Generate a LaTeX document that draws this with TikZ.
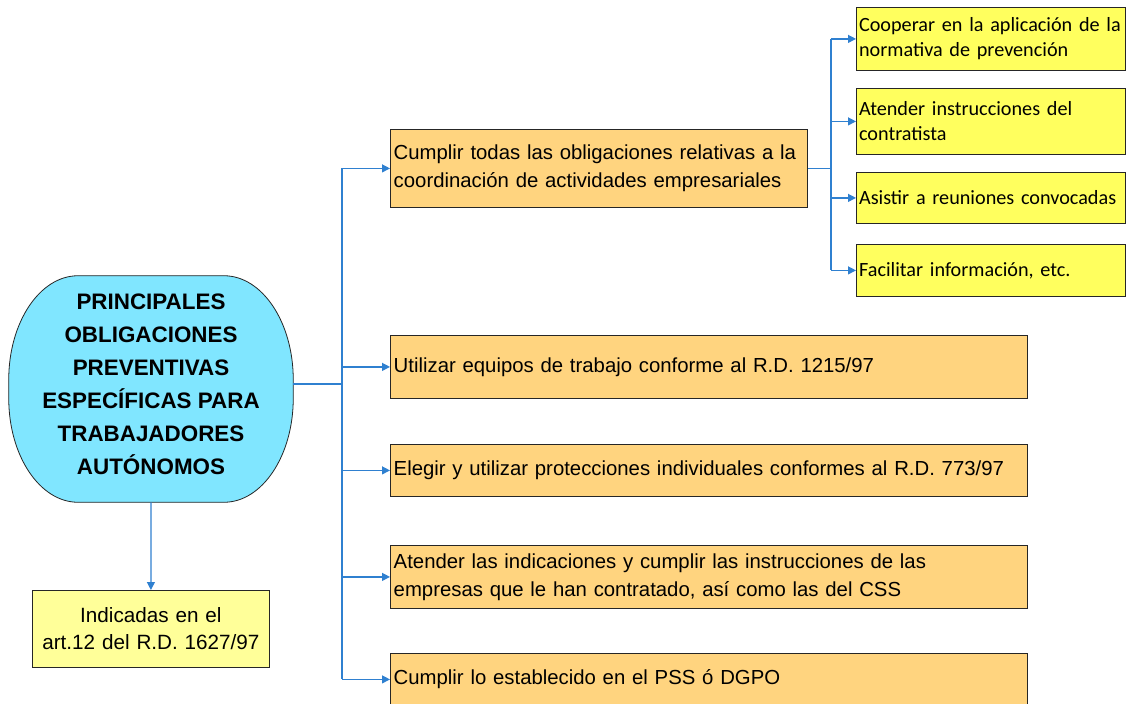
\documentclass[tikz,border=0pt]{standalone}
\usepackage{fontspec}
\setmainfont{Liberation Sans}
\newfontfamily\calibri{Carlito}
\usepackage{tikz}
\usetikzlibrary{positioning,arrows.meta,backgrounds}
\definecolor{lnblue}{HTML}{2F80D0}
\definecolor{boxorange}{HTML}{FFD47F}
\definecolor{boxyellow}{HTML}{FFFF5E}
\definecolor{paleyellow}{HTML}{FFFF99}
\definecolor{headcyan}{HTML}{80E6FF}

\tikzset{
  obligbox/.style={draw=black!85, line width=0.6pt, fill=boxorange, anchor=north west,
    inner xsep=2.5pt, inner ysep=0pt, align=left, font=\fontsize{15.25}{21}\selectfont},
  tareabox/.style={draw=black!85, line width=0.6pt, fill=boxyellow, anchor=north west,
    inner xsep=2pt, inner ysep=0pt, align=left, text width=197.75pt,
    font=\calibri\fontsize{15.15}{18.75}\selectfont},
  link/.style={draw=lnblue, line width=0.9pt},
  flecha/.style={link, -{Triangle[length=6pt,width=6pt]}},
}

\begin{document}
\begin{tikzpicture}[x=0.75pt, y=-0.75pt]
  \useasboundingbox (0,0) rectangle (1131,703);

  % central topic
  \node[minimum width=213pt, minimum height=169.5pt, inner sep=0pt, align=center,
        font=\bfseries\fontsize{16.8}{24.75}\selectfont] (main) at (151,384)
    {PRINCIPALES\\OBLIGACIONES\\PREVENTIVAS\\ESPECÍFICAS PARA\\TRABAJADORES\\AUTÓNOMOS};
  \begin{scope}[on background layer]
    \draw[draw=black!85, line width=0.6pt, fill=headcyan]
      ([shift={(52pt,-3.75pt)}]main.north west) -- ([shift={(-52pt,-3.75pt)}]main.north east)
      arc[start angle=90, end angle=0, x radius=52pt, y radius=78pt]
      -- ([yshift=74.25pt]main.south east)
      arc[start angle=0, end angle=-90, x radius=52pt, y radius=78pt]
      -- ([shift={(52pt,-3.75pt)}]main.south west)
      arc[start angle=270, end angle=180, x radius=52pt, y radius=78pt]
      -- ([yshift=-81.75pt]main.north west)
      arc[start angle=180, end angle=90, x radius=52pt, y radius=78pt] -- cycle;
  \end{scope}

  \node[draw=black!85, line width=0.6pt, fill=paleyellow, anchor=north west, inner xsep=3pt,
        inner ysep=0pt, text width=171.75pt, minimum height=57.75pt, align=center,
        font=\fontsize{15.5}{20}\selectfont] (ref) at (32,590)
    {Indicadas en el\\art.12 del R.D. 1627/97};

  % obligations
  \node[obligbox, text width=307.75pt, minimum height=58.5pt] (o1) at (390,129)
    {Cumplir todas las obligaciones relativas a la\\coordinación de actividades empresariales};
  \node[obligbox, text width=472.75pt, minimum height=47.25pt] (o2) at (390,335)
    {Utilizar equipos de trabajo conforme al R.D. 1215/97};
  \node[obligbox, text width=472.75pt, minimum height=39pt] (o3) at (390,444)
    {Elegir y utilizar protecciones individuales conformes al R.D. 773/97};
  \node[obligbox, text width=472.75pt, minimum height=47.25pt] (o4) at (390,545)
    {Atender las indicaciones y cumplir las instrucciones de las\\empresas que le han contratado, así como las del CSS};
  \node[obligbox, text width=472.75pt, minimum height=39pt] (o5) at (390,653)
    {Cumplir lo establecido en el PSS ó DGPO};

  % coordination tasks
  \node[tareabox, minimum height=47.25pt] (t1) at (856,7)
    {Cooperar en la aplicación de la\\normativa de prevención};
  \node[tareabox, minimum height=49.5pt] (t2) at (856,88)
    {Atender instrucciones del\\contratista};
  \node[tareabox, minimum height=38.25pt] (t3) at (856,172)
    {Asistir a reuniones convocadas};
  \node[tareabox, minimum height=39pt] (t4) at (856,244)
    {Facilitar información, etc.};

  % connectors
  \coordinate (lbus) at (342,384);
  \coordinate (rbus) at (831,168);
  \draw[link] (main.east) -- (main.east -| lbus);
  \draw[link] (lbus |- o1.west) -- (lbus |- o5.west);
  \foreach \n in {o1,o2,o3,o4,o5}
    \draw[flecha] (lbus |- \n.west) -- (\n.west);
  \draw[link] (o1.east) -- (o1.east -| rbus);
  \draw[link] (rbus |- t1.west) -- (rbus |- t4.west);
  \foreach \n in {t1,t2,t3,t4}
    \draw[flecha] (rbus |- \n.west) -- (\n.west);
  \draw[flecha] ([yshift=-3.75pt]main.south) -- (ref.north);
\end{tikzpicture}
\end{document}
